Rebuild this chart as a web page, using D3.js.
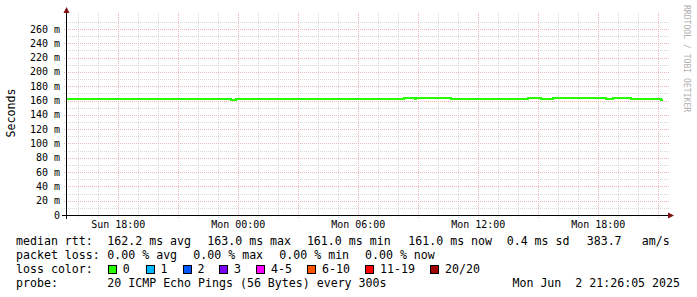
<!DOCTYPE html>
<html><head><meta charset="utf-8">
<script src="https://cdn.jsdelivr.net/npm/d3@7"></script>
<style>
html,body{margin:0;padding:0;background:#fff;}
text{font-family:"DejaVu Sans Mono",monospace;}
</style></head>
<body>
<svg id="chart" width="697" height="297"></svg>
<script>
// ---- data ----
const startTime = "2025-06-01 15:26:05";
const endTime = "2025-06-02 21:26:05";
const medianTimes = ["2025-06-01 15:26","2025-06-01 23:38","2025-06-01 23:53","2025-06-02 08:17",
  "2025-06-02 08:50","2025-06-02 08:53","2025-06-02 10:38","2025-06-02 14:29","2025-06-02 15:08",
  "2025-06-02 15:44","2025-06-02 18:23","2025-06-02 18:44","2025-06-02 19:38","2025-06-02 21:08"];
const medianValues = [0.162,0.161,0.162,0.163,0.162,0.163,0.162,0.163,0.162,0.163,0.162,0.163,0.162,0.161];
const lastSample = "2025-06-02 21:14";
const yTicks = [0,0.02,0.04,0.06,0.08,0.10,0.12,0.14,0.16,0.18,0.20,0.22,0.24,0.26];
const lossLabels = ["0","1","2","3","4-5","6-10","11-19","20/20"];
const lossColors = ["#26ff00","#00b8ff","#0059ff","#7e00ff","#ff00ff","#ff5500","#ff0000","#a10000"];
const rttItems = ["162.2 ms avg","163.0 ms max","161.0 ms min","161.0 ms now","0.4 ms sd","383.7","am/s"];
const lossItems = ["0.00 % avg","0.00 % max","0.00 % min","0.00 % now"];
const probeText = "20 ICMP Echo Pings (56 Bytes) every 300s";
const stampText = "Mon Jun  2 21:26:05 2025";

// ---- layout ----
const svg = d3.select("#chart");
const L = 67, R = 667, B = 215, T = 14.7;
const parseFull = d3.utcParse("%Y-%m-%d %H:%M:%S");
const parse = d3.utcParse("%Y-%m-%d %H:%M");
const x = d3.scaleUtc().domain([parseFull(startTime), parseFull(endTime)]).range([L, R]);
const y = d3.scaleLinear().domain([0, 0.28]).range([B, T]);

const minorCol = "#d8d8d8", majorCol = "#ecb4b4";
const g = svg.append("g").attr("shape-rendering","crispEdges");

// horizontal minor grid (every 10m)
const hMinor = d3.range(0.01, 0.28, 0.02);
g.selectAll(".hmin").data(hMinor).join("line")
  .attr("x1", L-3).attr("x2", R+3).attr("y1", d=>Math.round(y(d))+0.5).attr("y2", d=>Math.round(y(d))+0.5)
  .attr("stroke", minorCol).attr("stroke-dasharray","1,1");
// vertical minor grid (every hour)
const vMinor = d3.utcHour.every(1).range(x.domain()[0], x.domain()[1]);
g.selectAll(".vmin").data(vMinor.filter(d=>d.getUTCHours()%3!==0)).join("line")
  .attr("x1", d=>Math.round(x(d))+0.5).attr("x2", d=>Math.round(x(d))+0.5).attr("y1", T-2).attr("y2", B+3)
  .attr("stroke", minorCol).attr("stroke-dasharray","1,1");
// horizontal major
g.selectAll(".hmaj").data(yTicks.filter(d=>d>0)).join("line")
  .attr("x1", L-3).attr("x2", R+3).attr("y1", d=>Math.round(y(d))+0.5).attr("y2", d=>Math.round(y(d))+0.5)
  .attr("stroke", majorCol).attr("stroke-dasharray","1,1");
// vertical major (every 3h)
const vMajor = d3.utcHour.every(3).range(x.domain()[0], x.domain()[1]);
g.selectAll(".vmaj").data(vMajor).join("line")
  .attr("x1", d=>Math.round(x(d))+0.5).attr("x2", d=>Math.round(x(d))+0.5).attr("y1", T-2).attr("y2", B+3)
  .attr("stroke", majorCol).attr("stroke-dasharray","1,1");

// y labels
svg.selectAll(".ylab").data(yTicks).join("text")
  .attr("x", 60).attr("y", d=>y(d)+3.5).attr("text-anchor","end")
  .attr("font-size","10px").attr("fill","#000")
  .text(d=> d===0 ? "0" : Math.round(d*1000)+" m");

// x labels
const xLabs = d3.utcHour.every(6).range(x.domain()[0], x.domain()[1]);
svg.selectAll(".xlab").data(xLabs).join("text")
  .attr("x", d=>x(d)).attr("y", 228).attr("text-anchor","middle")
  .attr("font-size","10px").attr("fill","#000")
  .text(d3.utcFormat("%a %H:%M"));

// median line
const pts = medianTimes.map((t,i)=>({t:parse(t), v:medianValues[i]}));
pts.push({t:parse(lastSample), v:medianValues[medianValues.length-1]});
const line = d3.line().x(d=>x(d.t)).y(d=>y(d.v)).curve(d3.curveStepAfter);
svg.append("path").datum(pts).attr("d", line).attr("fill","none")
  .attr("stroke", lossColors[0]).attr("stroke-width",2).attr("shape-rendering","crispEdges");

// axes
const ax = svg.append("g").attr("shape-rendering","crispEdges");
ax.append("line").attr("x1", L-5).attr("x2", 670).attr("y1", B+0.5).attr("y2", B+0.5).attr("stroke","#000");
ax.append("line").attr("x1", L-0.5).attr("x2", L-0.5).attr("y1", 12).attr("y2", B+4).attr("stroke","#000");
svg.append("path").attr("d", `M${L-3.5},13 L${L-0.5},7 L${L+2.5},13 Z`).attr("fill","#7f1010");
svg.append("path").attr("d", `M668,${B-2.5} L674,${B+0.5} L668,${B+3.5} Z`).attr("fill","#7f1010");

// y title
svg.append("text").attr("transform","translate(15,113) rotate(-90)").attr("text-anchor","middle")
  .attr("font-size","11.6px").attr("fill","#000").text("Seconds");
// watermark
svg.append("text").attr("transform","translate(684,5) rotate(90)").attr("text-anchor","start")
  .attr("font-size","8.1px").attr("fill","#b0b0b0").text("RRDTOOL / TOBI OETIKER");

// legend
const fs = "11.6px";
const leg = svg.append("g").attr("font-size", fs).attr("fill","#000");
leg.append("text").attr("x",16).attr("y",245).text("median rtt:");
const rttX = [107.3,207.3,306.9,408.3,506.7,586.7,641.7];
rttItems.forEach((s,i)=>leg.append("text").attr("x",rttX[i]).attr("y",245).text(s));
leg.append("text").attr("x",16).attr("y",259).text("packet loss:");
const lossX = [107.3,193.3,279.3,365];
lossItems.forEach((s,i)=>leg.append("text").attr("x",lossX[i]).attr("y",259).text(s));
leg.append("text").attr("x",16).attr("y",273).text("loss color:");
const sqX = [108,145.7,182.7,219.3,256.3,307.3,365.3,430.3];
lossLabels.forEach((s,i)=>{
  svg.append("rect").attr("x",Math.round(sqX[i])+0.5).attr("y",265.5).attr("width",8).attr("height",8)
    .attr("fill",lossColors[i]).attr("stroke","#000").attr("stroke-width",1).attr("shape-rendering","crispEdges");
  leg.append("text").attr("x",sqX[i]+14.8).attr("y",273).text(s);
});
leg.append("text").attr("x",16).attr("y",287).text("probe:");
leg.append("text").attr("x",107.3).attr("y",287).text(probeText);
leg.append("text").attr("x",680).attr("y",287).attr("text-anchor","end").attr("xml:space","preserve").text(stampText);
</script>
</body></html>
